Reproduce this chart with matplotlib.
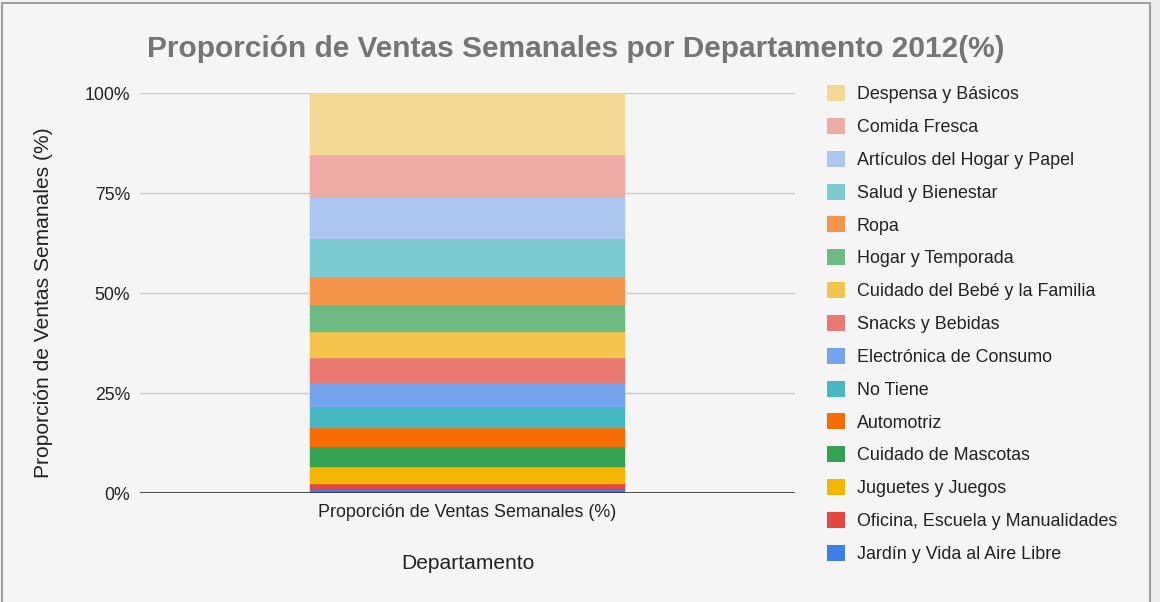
import matplotlib
matplotlib.use("Agg")
import matplotlib.pyplot as plt
from matplotlib.patches import Rectangle, Patch

plt.rcParams['font.family'] = ['Liberation Sans', 'DejaVu Sans']

category = ["Proporción de Ventas Semanales (%)"]
departments = [
    "Jardín y Vida al Aire Libre",
    "Oficina, Escuela y Manualidades",
    "Juguetes y Juegos",
    "Cuidado de Mascotas",
    "Automotriz",
    "No Tiene",
    "Electrónica de Consumo",
    "Snacks y Bebidas",
    "Cuidado del Bebé y la Familia",
    "Hogar y Temporada",
    "Ropa",
    "Salud y Bienestar",
    "Artículos del Hogar y Papel",
    "Comida Fresca",
    "Despensa y Básicos",
]
shares = [0.9, 1.4, 4.25, 4.85, 4.9, 5.25, 6.0, 6.25, 6.5, 6.7, 7.1, 9.4, 10.6, 10.4, 15.5]
colors = [
    "#3f7ee8", "#e34641", "#f3b703", "#35a153", "#f76c02",
    "#45b8c1", "#76a3ee", "#e87870", "#f3c64b", "#6dbb83",
    "#f5944b", "#7bcacf", "#adc5f1", "#eeaca7", "#f3da94",
]
yticks = [0, 25, 50, 75, 100]
ytick_labels = ["0%", "25%", "50%", "75%", "100%"]

W, H = 1160, 602
fig = plt.figure(figsize=(W / 100, H / 100), dpi=100)
fig.patch.set_facecolor("#f5f5f5")

# outer area and border
fig.patches.append(Rectangle((1151 / W, 0), 1 - 1151 / W, 1, transform=fig.transFigure,
                             facecolor="#ececec", edgecolor="none", zorder=0))
fig.patches.append(Rectangle((2 / W, -0.01), 1148 / W, (H - 3) / H + 0.01, transform=fig.transFigure,
                             facecolor="none", edgecolor="#9e9e9e", linewidth=1.5, zorder=1))

ax = fig.add_axes([140 / W, (H - 493) / H, 655 / W, 400 / H])
ax.set_facecolor("#f5f5f5")

total = sum(shares)
bottom = 0.0
handles = []
for name, val, col in zip(departments, shares, colors):
    pct = val / total * 100
    ax.bar(category, [pct], bottom=[bottom], width=0.48, color=col,
           edgecolor=col, linewidth=0.3, zorder=3)
    bottom += pct
    handles.append(Patch(facecolor=col, edgecolor="none", label=name))

ax.set_xlim(-0.5, 0.5)
ax.set_ylim(0, 100)
ax.set_yticks(yticks)
ax.set_yticklabels(ytick_labels, fontsize=12.7, color="#222222")
ax.yaxis.grid(True, color="#cccccc", linewidth=1, zorder=0)
ax.set_axisbelow(True)
ax.axhline(0, color="#333333", linewidth=1.2, zorder=4)
for s in ax.spines.values():
    s.set_visible(False)
ax.tick_params(axis="y", length=0, pad=7)
ax.tick_params(axis="x", length=0, labelsize=12.9, labelcolor="#222222", pad=8)

ax.set_ylabel("Proporción de Ventas Semanales (%)", fontsize=15.1, color="#222222",
              va="center")
ax.yaxis.set_label_coords(-0.148, 0.476)
ax.set_xlabel("Departamento", fontsize=15.1, color="#222222", labelpad=24)

fig.text(576 / W, 1 - 49 / H, "Proporción de Ventas Semanales por Departamento 2012(%)",
         ha="center", va="center", fontsize=21.5, fontweight="bold", color="#757575")

fig.legend(handles=handles[::-1], loc="upper left",
           bbox_to_anchor=(827 / W, 1 - 85 / H), frameon=False,
           fontsize=12.9, handlelength=1.0, handleheight=1.0,
           labelspacing=0.82, handletextpad=0.65, borderaxespad=0, borderpad=0,
           labelcolor="#222222")

fig.savefig("out.png", dpi=100, facecolor=fig.get_facecolor())
